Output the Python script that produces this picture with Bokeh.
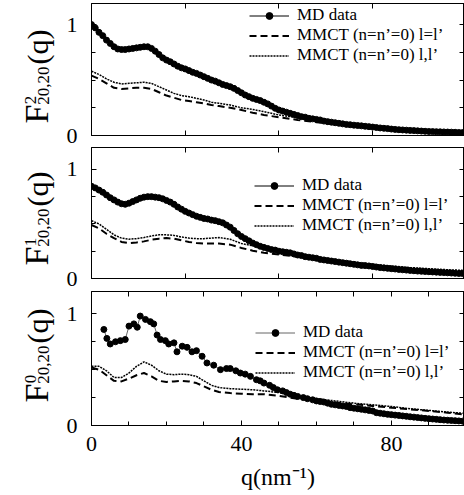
from bokeh.plotting import figure
from bokeh.models import Range1d, FixedTicker, LinearAxis, Legend, LegendItem
from bokeh.layouts import column, row
from bokeh.embed import file_html
from bokeh.resources import INLINE
from bokeh.core.properties import value

FONT = "Liberation Serif"

# ---------------- data ----------------
q_md = list(range(100))

f2_md = [1.00, 0.97, 0.93, 0.90, 0.86, 0.83, 0.80, 0.78, 0.775, 0.775,
         0.78, 0.785, 0.79, 0.795, 0.80, 0.80, 0.785, 0.76, 0.73, 0.70,
         0.68, 0.665, 0.645, 0.625, 0.61, 0.60, 0.585, 0.57, 0.56, 0.545,
         0.53, 0.515, 0.50, 0.49, 0.475, 0.46, 0.45, 0.44, 0.425, 0.405,
         0.385, 0.365, 0.35, 0.335, 0.325, 0.315, 0.30, 0.285, 0.265, 0.245,
         0.23, 0.22, 0.21, 0.20, 0.19, 0.18, 0.17, 0.165, 0.155, 0.15,
         0.145, 0.14, 0.13, 0.125, 0.12, 0.115, 0.11, 0.105, 0.10, 0.097,
         0.093, 0.09, 0.087, 0.083, 0.08, 0.076, 0.072, 0.068, 0.065, 0.062,
         0.058, 0.055, 0.052, 0.05, 0.048, 0.046, 0.044, 0.042, 0.04, 0.038,
         0.036, 0.035, 0.034, 0.033, 0.032, 0.031, 0.03, 0.029, 0.027, 0.026]

f1_md = [0.845, 0.83, 0.81, 0.79, 0.765, 0.74, 0.72, 0.70, 0.685, 0.68,
         0.69, 0.705, 0.72, 0.735, 0.745, 0.75, 0.75, 0.745, 0.74, 0.73,
         0.715, 0.70, 0.68, 0.655, 0.635, 0.615, 0.60, 0.585, 0.57, 0.56,
         0.55, 0.545, 0.535, 0.53, 0.52, 0.51, 0.49, 0.47, 0.44, 0.41,
         0.385, 0.365, 0.345, 0.325, 0.31, 0.295, 0.285, 0.275, 0.265, 0.26,
         0.25, 0.245, 0.24, 0.235, 0.225, 0.215, 0.21, 0.20, 0.195, 0.19,
         0.185, 0.175, 0.17, 0.165, 0.16, 0.155, 0.15, 0.145, 0.14, 0.135,
         0.13, 0.125, 0.12, 0.118, 0.115, 0.11, 0.105, 0.10, 0.097, 0.093,
         0.09, 0.087, 0.083, 0.08, 0.077, 0.074, 0.071, 0.068, 0.066, 0.064,
         0.062, 0.06, 0.058, 0.056, 0.054, 0.052, 0.05, 0.048, 0.046, 0.045]

q_md0 = [3.3, 4.1, 5.0, 6.4, 7.7, 9.0, 10.0, 11.3, 12.2, 13.0, 14.4, 15.7, 16.6,
         17.5, 18.4, 19.7, 20.6, 22.0, 22.8, 24.2, 25.5, 26.8, 28.0, 29.5, 30.8,
         32.6, 34.4, 36.0, 37.0, 38.5, 39.7, 41.0, 42.4, 44.0, 45.0, 46.0, 47.5,
         48.5, 49.6, 51.0, 52.0, 53.0, 54.0, 55.0, 56.5, 57.6, 59.0, 60.0, 61.0,
         62.0, 63.0, 64.0, 65.0, 66.0, 67.0, 68.0, 69.0, 70.0, 71.0, 72.0, 73.0,
         74.0, 75.0, 76.0, 77.0, 78.0, 79.0, 80.0, 81.0, 82.0, 83.0, 84.0, 85.0,
         86.0, 87.0, 88.0, 89.0, 90.0, 91.0, 92.0, 93.0, 94.0, 95.0, 96.0, 97.0,
         98.0, 99.0]
f0_md = [0.86, 0.78, 0.73, 0.75, 0.76, 0.77, 0.89, 0.91, 0.88, 0.98, 0.95, 0.93, 0.91,
         0.81, 0.77, 0.76, 0.73, 0.74, 0.66, 0.71, 0.70, 0.66, 0.67, 0.62, 0.56,
         0.54, 0.50, 0.51, 0.51, 0.49, 0.47, 0.46, 0.44, 0.41, 0.40, 0.38, 0.36,
         0.34, 0.32, 0.31, 0.295, 0.28, 0.27, 0.26, 0.25, 0.24, 0.23, 0.22, 0.215,
         0.21, 0.20, 0.19, 0.185, 0.18, 0.175, 0.17, 0.16, 0.155, 0.15, 0.145, 0.14,
         0.135, 0.13, 0.115, 0.11, 0.105, 0.10, 0.097, 0.093, 0.09, 0.086, 0.082, 0.078,
         0.075, 0.071, 0.068, 0.064, 0.061, 0.058, 0.055, 0.052, 0.049, 0.047, 0.045, 0.043,
         0.041, 0.039]

q_th = [0, 2, 4, 6, 8, 10, 12, 14, 16, 18, 20, 22, 24, 26, 28, 30, 32, 34, 37, 40,
        43, 46, 50, 55, 60, 65, 70, 75, 80, 85, 90, 95, 99]

f2_diag = [0.54, 0.51, 0.47, 0.43, 0.42, 0.425, 0.43, 0.43, 0.42, 0.39, 0.36, 0.34,
           0.32, 0.31, 0.30, 0.29, 0.275, 0.265, 0.25, 0.23, 0.205, 0.185, 0.165,
           0.14, 0.12, 0.10, 0.085, 0.07, 0.055, 0.045, 0.035, 0.03, 0.025]
f2_full = [0.58, 0.55, 0.51, 0.48, 0.465, 0.47, 0.475, 0.48, 0.47, 0.44, 0.41, 0.38,
           0.36, 0.35, 0.335, 0.32, 0.30, 0.29, 0.275, 0.25, 0.235, 0.215, 0.185,
           0.16, 0.14, 0.115, 0.095, 0.075, 0.06, 0.05, 0.04, 0.033, 0.028]

f1_diag = [0.49, 0.46, 0.41, 0.37, 0.335, 0.325, 0.33, 0.34, 0.355, 0.365, 0.37, 0.365,
           0.35, 0.335, 0.325, 0.32, 0.32, 0.32, 0.31, 0.28, 0.255, 0.235, 0.22,
           0.20, 0.175, 0.15, 0.13, 0.115, 0.10, 0.09, 0.08, 0.07, 0.065]
f1_full = [0.53, 0.50, 0.45, 0.40, 0.37, 0.36, 0.365, 0.375, 0.39, 0.40, 0.40, 0.395,
           0.38, 0.37, 0.365, 0.365, 0.37, 0.375, 0.36, 0.32, 0.30, 0.28, 0.255,
           0.225, 0.195, 0.17, 0.15, 0.13, 0.115, 0.10, 0.09, 0.08, 0.075]

f0_diag = [0.52, 0.50, 0.45, 0.40, 0.395, 0.42, 0.45, 0.47, 0.44, 0.40, 0.39, 0.395,
           0.40, 0.395, 0.38, 0.35, 0.32, 0.30, 0.29, 0.285, 0.28, 0.28, 0.265,
           0.24, 0.225, 0.205, 0.19, 0.175, 0.16, 0.145, 0.13, 0.115, 0.10]
f0_full = [0.53, 0.53, 0.49, 0.43, 0.43, 0.47, 0.53, 0.57, 0.54, 0.49, 0.46, 0.455,
           0.46, 0.455, 0.44, 0.40, 0.36, 0.34, 0.33, 0.325, 0.32, 0.31, 0.295,
           0.265, 0.24, 0.22, 0.20, 0.185, 0.17, 0.15, 0.135, 0.12, 0.11]

legend_labels = ["MD data", "MMCT (n=n\u2019=0) l=l\u2019", "MMCT (n=n\u2019=0) l,l\u2019"]
x_label = "q(nm\u207b\u00b9)"
y_label_parts = ["F", "20,20", "(q)"]
y_label_sups = ["2", "1", "0"]

LABEL_W = 58
TOTAL_W = 464
TOTAL_H = 494


def tick_axis(major, minor, labelled):
    ax = LinearAxis(ticker=FixedTicker(ticks=major, minor_ticks=minor))
    ax.major_tick_in = 5
    ax.major_tick_out = 0
    ax.minor_tick_in = 5 if not labelled else 4
    ax.minor_tick_out = 0
    ax.major_tick_line_color = "black"
    ax.minor_tick_line_color = "black"
    ax.axis_line_color = "black"
    ax.major_label_text_font = FONT
    ax.major_label_text_color = "black"
    ax.major_label_text_font_size = "22px"
    return ax


def make_panel(height, top, bottom, y_end, md_q, md_y, diag, full,
               leg_xy, bottom_panel, md_line_color):
    p = figure(width=TOTAL_W - LABEL_W, height=height, output_backend="svg",
               toolbar_location=None,
               x_range=Range1d(0, 99.5), y_range=Range1d(0, y_end),
               min_border_left=91 - LABEL_W, min_border_right=0, min_border_top=top,
               min_border_bottom=bottom, x_axis_location=None, y_axis_location=None)
    p.grid.visible = False
    p.outline_line_color = "black"
    p.outline_line_alpha = 1

    if bottom_panel:
        xb = tick_axis([0, 40, 80], [10, 20, 30, 50, 60, 70, 90], True)
        xb.major_label_standoff = 11
        xb.axis_label = x_label
        xb.axis_label_text_font = FONT
        xb.axis_label_text_font_size = "24px"
        xb.axis_label_text_font_style = "normal"
        xb.axis_label_text_color = "black"
        xb.axis_label_standoff = 10
        xt = tick_axis([], [10, 20, 30, 40, 50, 60, 70, 80, 90], False)
    else:
        xb = tick_axis([], [25, 50, 75], False)
        xt = tick_axis([], [25, 50, 75], False)
    yl = tick_axis([0, 1], [0.25, 0.5, 0.75], True)
    yl.major_label_standoff = 14
    yr = tick_axis([], [0.25, 0.5, 0.75, 1.0], False)
    p.add_layout(xb, "below")
    p.add_layout(xt, "above")
    p.add_layout(yl, "left")
    p.add_layout(yr, "right")

    md_l = p.line(md_q, md_y, line_color=md_line_color, line_width=1)
    md_s = p.scatter(md_q, md_y, marker="circle", size=6, fill_color="black",
                     line_color="black")
    d_l = p.line(q_th, diag, line_color="black", line_width=2, line_dash="7 4")
    f_l = p.line(q_th, full, line_color="black", line_width=1.5, line_dash="2 1")

    leg = Legend(items=[LegendItem(label=legend_labels[0], renderers=[md_l, md_s]),
                        LegendItem(label=legend_labels[1], renderers=[d_l]),
                        LegendItem(label=legend_labels[2], renderers=[f_l])],
                 location=leg_xy, orientation="vertical")
    leg.label_text_font = FONT
    leg.label_text_font_size = "17px"
    leg.label_text_color = "black"
    leg.glyph_width = 40
    leg.glyph_height = 17
    leg.label_height = 17
    leg.label_standoff = 8
    leg.spacing = 0
    leg.padding = 0
    leg.margin = 0
    leg.border_line_alpha = 0
    leg.background_fill_alpha = 0
    p.add_layout(leg, "center")
    return p


p1 = make_panel(146, 3, 11, 1.19, q_md, f2_md, f2_diag, f2_full,
                (158, 70), False, "black")
p2 = make_panel(144, 1, 12, 1.2, q_md, f1_md, f1_diag, f1_full,
                (163, 43), False, "black")
p3 = make_panel(204, 1, 69, 1.2, q_md0, f0_md, f0_diag, f0_full,
                (164, 43), True, "#666666")

# narrow companion figure holding the three rotated y titles F^n_{20,20}(q)
# positions are given in pixels measured from the bottom of the page
lab_F = [380.5, 238.5, 101.5]
lab_sup = [394.5, 252.5, 115.5]
lab_sub = [409.0, 267.0, 130.0]
lab_q = [447.5, 305.5, 168.5]

lf = figure(width=LABEL_W, height=TOTAL_H, output_backend="svg", toolbar_location=None,
            x_range=Range1d(0, LABEL_W), y_range=Range1d(0, TOTAL_H),
            min_border=0, x_axis_location=None, y_axis_location=None)
lf.grid.visible = False
lf.outline_line_color = None
rot = 1.5707963
common = dict(angle=rot, text_font=value(FONT), text_align="center",
              text_baseline="middle", text_color="black")
lf.text(x=[36] * 3, y=lab_F, text=[y_label_parts[0]] * 3, text_font_size="34px", **common)
lf.text(x=[30] * 3, y=lab_sup, text=y_label_sups, text_font_size="17px", **common)
lf.text(x=[43] * 3, y=lab_sub, text=[y_label_parts[1]] * 3, text_font_size="17px", **common)
lf.text(x=[37] * 3, y=lab_q, text=[y_label_parts[2]] * 3, text_font_size="30px", **common)

layout = row(lf, column(p1, p2, p3, spacing=0), spacing=0)
open("out.html", "w").write(file_html(layout, INLINE))
